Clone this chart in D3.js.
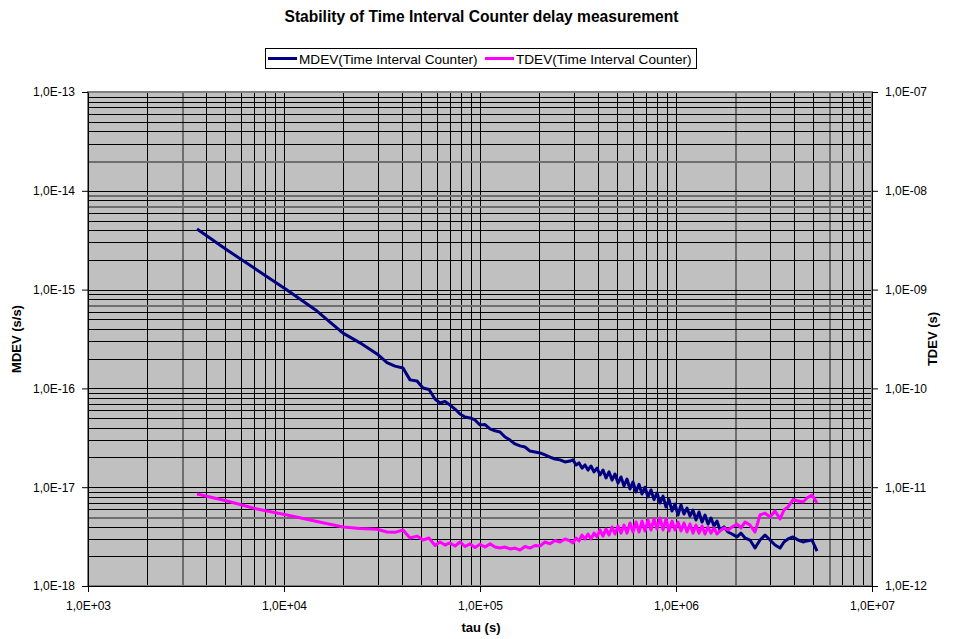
<!DOCTYPE html>
<html>
<head>
<meta charset="utf-8">
<script src="https://cdn.jsdelivr.net/npm/d3@7"></script>
<style>
  body { margin: 0; background: #fff; }
  text { font-family: Arial, "Liberation Sans", sans-serif; fill: #000; }
</style>
</head>
<body>
<div id="chart"></div>
<script>
// tau (s) shared by both series
const tau = [3600, 5120, 7280, 10360, 14740, 20000, 24420, 29830, 33540, 36840,
  40470, 43950, 47710, 51200, 54930, 58950, 62510, 66290, 70290, 74530,
  79070, 83850, 88920, 94290, 100000, 106050, 112500, 119300, 126500, 134200,
  142300, 150900, 160000, 169700, 179900, 190800, 202400, 214600, 227600, 241400,
  256000, 271500, 287900, 298300, 309000, 320000, 331500, 343400, 355600, 368400,
  381600, 395300, 409500, 424300, 439500, 455200, 471600, 488400, 506000, 524100,
  542900, 562300, 582500, 603400, 625100, 647500, 670700, 694800, 719600, 745400,
  772400, 800100, 828800, 858500, 889300, 921200, 954100, 988300, 1023800, 1060500,
  1098500, 1137900, 1178700, 1221000, 1264700, 1310100, 1357400, 1406000, 1456500, 1508700,
  1562800, 1618900, 1676900, 1757600, 1842200, 1931000, 2047700, 2146200, 2249000, 2385500,
  2530100, 2683500, 2846100, 3018400, 3200900, 3394800, 3556000, 3727600, 3953900, 4193600,
  4446300, 4659000, 4942000, 5242000];

// MDEV (s/s), left axis
const mdev = [4.11e-15, 2.52e-15, 1.58e-15, 9.91e-16, 6.07e-16, 3.63e-16, 2.89e-16, 2.23e-16, 1.82e-16, 1.68e-16,
  1.61e-16, 1.22e-16, 1.19e-16, 1.01e-16, 9.75e-17, 7.81e-17, 7.11e-17, 7.37e-17, 6.79e-17, 6.18e-17,
  5.50e-17, 5.13e-17, 5.02e-17, 4.79e-17, 4.26e-17, 4.30e-17, 3.89e-17, 3.72e-17, 3.62e-17, 3.22e-17,
  3.00e-17, 2.74e-17, 2.62e-17, 2.55e-17, 2.32e-17, 2.27e-17, 2.22e-17, 2.12e-17, 2.02e-17, 1.93e-17,
  1.89e-17, 1.80e-17, 1.84e-17, 1.89e-17, 1.68e-17, 1.76e-17, 1.56e-17, 1.68e-17, 1.49e-17, 1.64e-17,
  1.43e-17, 1.56e-17, 1.33e-17, 1.49e-17, 1.24e-17, 1.43e-17, 1.18e-17, 1.36e-17, 1.10e-17, 1.27e-17,
  1.03e-17, 1.21e-17, 9.59e-18, 1.13e-17, 8.95e-18, 1.07e-17, 8.54e-18, 1.00e-17, 7.97e-18, 9.37e-18,
  7.49e-18, 8.73e-18, 6.92e-18, 8.14e-18, 6.30e-18, 7.49e-18, 5.74e-18, 6.76e-18, 5.23e-18, 6.61e-18,
  5.35e-18, 6.15e-18, 5.11e-18, 5.88e-18, 4.66e-18, 5.61e-18, 4.44e-18, 5.23e-18, 4.24e-18, 4.88e-18,
  4.05e-18, 4.54e-18, 3.69e-18, 3.96e-18, 3.52e-18, 3.36e-18, 3.14e-18, 3.43e-18, 3.06e-18, 2.92e-18,
  2.42e-18, 2.92e-18, 3.28e-18, 2.92e-18, 2.60e-18, 2.42e-18, 2.79e-18, 2.99e-18, 3.14e-18, 2.92e-18,
  2.79e-18, 2.86e-18, 2.92e-18, 2.26e-18];

// TDEV (s), right axis
const tdev = [8.54e-12, 7.25e-12, 6.01e-12, 5.23e-12, 4.49e-12, 3.96e-12, 3.82e-12, 3.75e-12, 3.52e-12, 3.49e-12,
  3.69e-12, 3.06e-12, 3.20e-12, 2.92e-12, 3.06e-12, 2.57e-12, 2.79e-12, 2.60e-12, 2.73e-12, 2.54e-12,
  2.79e-12, 2.51e-12, 2.67e-12, 2.45e-12, 2.64e-12, 2.48e-12, 2.67e-12, 2.48e-12, 2.42e-12, 2.48e-12,
  2.37e-12, 2.42e-12, 2.31e-12, 2.51e-12, 2.42e-12, 2.57e-12, 2.54e-12, 2.79e-12, 2.67e-12, 2.89e-12,
  2.79e-12, 2.99e-12, 2.86e-12, 2.73e-12, 3.06e-12, 2.86e-12, 3.28e-12, 2.99e-12, 3.36e-12, 2.99e-12,
  3.43e-12, 3.14e-12, 3.69e-12, 3.20e-12, 3.78e-12, 3.28e-12, 3.96e-12, 3.36e-12, 4.05e-12, 3.43e-12,
  4.14e-12, 3.43e-12, 4.34e-12, 3.52e-12, 4.44e-12, 3.52e-12, 4.54e-12, 3.60e-12, 4.66e-12, 3.69e-12,
  4.77e-12, 3.78e-12, 4.88e-12, 3.69e-12, 4.77e-12, 3.60e-12, 4.54e-12, 3.69e-12, 4.44e-12, 3.60e-12,
  4.34e-12, 3.52e-12, 4.24e-12, 3.43e-12, 4.14e-12, 3.43e-12, 4.05e-12, 3.36e-12, 3.96e-12, 3.43e-12,
  3.87e-12, 3.36e-12, 3.60e-12, 3.87e-12, 3.69e-12, 3.96e-12, 4.24e-12, 3.87e-12, 4.44e-12, 4.14e-12,
  3.52e-12, 5.23e-12, 5.47e-12, 4.99e-12, 5.74e-12, 4.77e-12, 5.88e-12, 6.30e-12, 7.49e-12, 7.25e-12,
  7.08e-12, 7.77e-12, 8.34e-12, 6.92e-12];

// ticks
const xTicks = [1e3, 1e4, 1e5, 1e6, 1e7];
const xTickLabels = ["1,0E+03", "1,0E+04", "1,0E+05", "1,0E+06", "1,0E+07"];
const leftTicks = [1e-18, 1e-17, 1e-16, 1e-15, 1e-14, 1e-13];
const leftTickLabels = ["1,0E-18", "1,0E-17", "1,0E-16", "1,0E-15", "1,0E-14", "1,0E-13"];
const rightTicks = [1e-12, 1e-11, 1e-10, 1e-9, 1e-8, 1e-7];
const rightTickLabels = ["1,0E-12", "1,0E-11", "1,0E-10", "1,0E-09", "1,0E-08", "1,0E-07"];

const seriesNames = ["MDEV(Time Interval Counter)", "TDEV(Time Interval Counter)"];
const seriesColors = ["#000080", "#FF00FF"];

// gridlines that Excel drew greyer
const greyX = [3e3, 2e6, 6e6];
const greyY = [2e-14, 9e-15, 7e-15, 7e-16, 5e-18];

const W = 953, H = 639;
const plotL = 88, plotR = 872, plotT = 92, plotB = 586;

const svg = d3.select("#chart").append("svg")
  .attr("width", W).attr("height", H);

const x = d3.scaleLog().domain([1e3, 1e7]).range([plotL, plotR]);
const yL = d3.scaleLog().domain([1e-18, 1e-13]).range([plotB, plotT]);
const yR = d3.scaleLog().domain([1e-12, 1e-7]).range([plotB, plotT]);

// plot area
svg.append("rect")
  .attr("x", plotL).attr("y", plotT)
  .attr("width", plotR - plotL).attr("height", plotB - plotT)
  .attr("fill", "#C0C0C0");

const isIn = (v, list) => list.some(g => Math.abs(Math.log10(v / g)) < 1e-6);

// gridlines
const grid = svg.append("g").attr("shape-rendering", "crispEdges");
x.ticks().forEach(t => {
  if (t <= 1e3 || t >= 1e7) return;
  const grey = isIn(t, greyX);
  grid.append("line")
    .attr("x1", Math.round(x(t)) + 0.5).attr("x2", Math.round(x(t)) + 0.5)
    .attr("y1", plotT).attr("y2", plotB)
    .attr("stroke", grey ? "#6e6e6e" : "#000")
    .attr("stroke-width", grey ? 2 : 1);
});
yL.ticks().forEach(t => {
  if (t <= 1e-18 || t >= 1e-13) return;
  const grey = isIn(t, greyY);
  grid.append("line")
    .attr("x1", plotL).attr("x2", plotR)
    .attr("y1", Math.round(yL(t)) + 0.5).attr("y2", Math.round(yL(t)) + 0.5)
    .attr("stroke", grey ? "#6e6e6e" : "#000")
    .attr("stroke-width", grey ? 2 : 1);
});

// frame
svg.append("rect")
  .attr("x", plotL).attr("y", plotT)
  .attr("width", plotR - plotL).attr("height", plotB - plotT)
  .attr("fill", "none").attr("stroke", "#808080").attr("stroke-width", 2);

// series
const pts = (vals) => tau.map((t, i) => ({ t: t, v: vals[i] }));
svg.append("path")
  .datum(pts(mdev))
  .attr("fill", "none").attr("stroke", seriesColors[0])
  .attr("stroke-width", 3).attr("stroke-linejoin", "round")
  .attr("d", d3.line().x(d => x(d.t)).y(d => yL(d.v)));
svg.append("path")
  .datum(pts(tdev))
  .attr("fill", "none").attr("stroke", seriesColors[1])
  .attr("stroke-width", 3).attr("stroke-linejoin", "round")
  .attr("d", d3.line().x(d => x(d.t)).y(d => yR(d.v)));

// axes
function styleAxis(g) {
  g.selectAll("text").style("font-size", "12px");
  g.selectAll("line").attr("stroke", "#000");
  g.select(".domain").attr("stroke", "#000");
}
svg.append("g")
  .attr("transform", `translate(0,${plotB})`)
  .call(d3.axisBottom(x).tickValues(xTicks).tickFormat((d, i) => xTickLabels[i])
    .tickSize(6).tickSizeOuter(0).tickPadding(9))
  .call(styleAxis);
svg.append("g")
  .attr("transform", `translate(${plotL},0)`)
  .call(d3.axisLeft(yL).tickValues(leftTicks).tickFormat((d, i) => leftTickLabels[i])
    .tickSize(6).tickSizeOuter(0).tickPadding(7))
  .call(styleAxis);
svg.append("g")
  .attr("transform", `translate(${plotR},0)`)
  .call(d3.axisRight(yR).tickValues(rightTicks).tickFormat((d, i) => rightTickLabels[i])
    .tickSize(6).tickSizeOuter(0).tickPadding(7))
  .call(styleAxis);

// titles
svg.append("text")
  .attr("x", 481.5).attr("y", 22)
  .attr("text-anchor", "middle")
  .style("font-size", "15.6px").style("font-weight", "bold")
  .text("Stability of Time Interval Counter delay measurement");
svg.append("text")
  .attr("x", 481).attr("y", 632)
  .attr("text-anchor", "middle")
  .style("font-size", "13px").style("font-weight", "bold")
  .text("tau (s)");
svg.append("text")
  .attr("transform", "translate(21,339) rotate(-90)")
  .attr("text-anchor", "middle")
  .style("font-size", "13px").style("font-weight", "bold")
  .text("MDEV (s/s)");
svg.append("text")
  .attr("transform", "translate(937,339) rotate(-90)")
  .attr("text-anchor", "middle")
  .style("font-size", "13px").style("font-weight", "bold")
  .text("TDEV (s)");

// legend
const legend = svg.append("g");
legend.append("rect")
  .attr("x", 265.5).attr("y", 48.5).attr("width", 431).attr("height", 20)
  .attr("fill", "#fff").attr("stroke", "#000");
const legendX = [268, 485];
seriesNames.forEach((name, i) => {
  legend.append("line")
    .attr("x1", legendX[i]).attr("x2", legendX[i] + 29)
    .attr("y1", 58.5).attr("y2", 58.5)
    .attr("stroke", seriesColors[i]).attr("stroke-width", 3);
  legend.append("text")
    .attr("x", legendX[i] + 31).attr("y", 63.5)
    .style("font-size", "13.6px")
    .text(name);
});
</script>
</body>
</html>
